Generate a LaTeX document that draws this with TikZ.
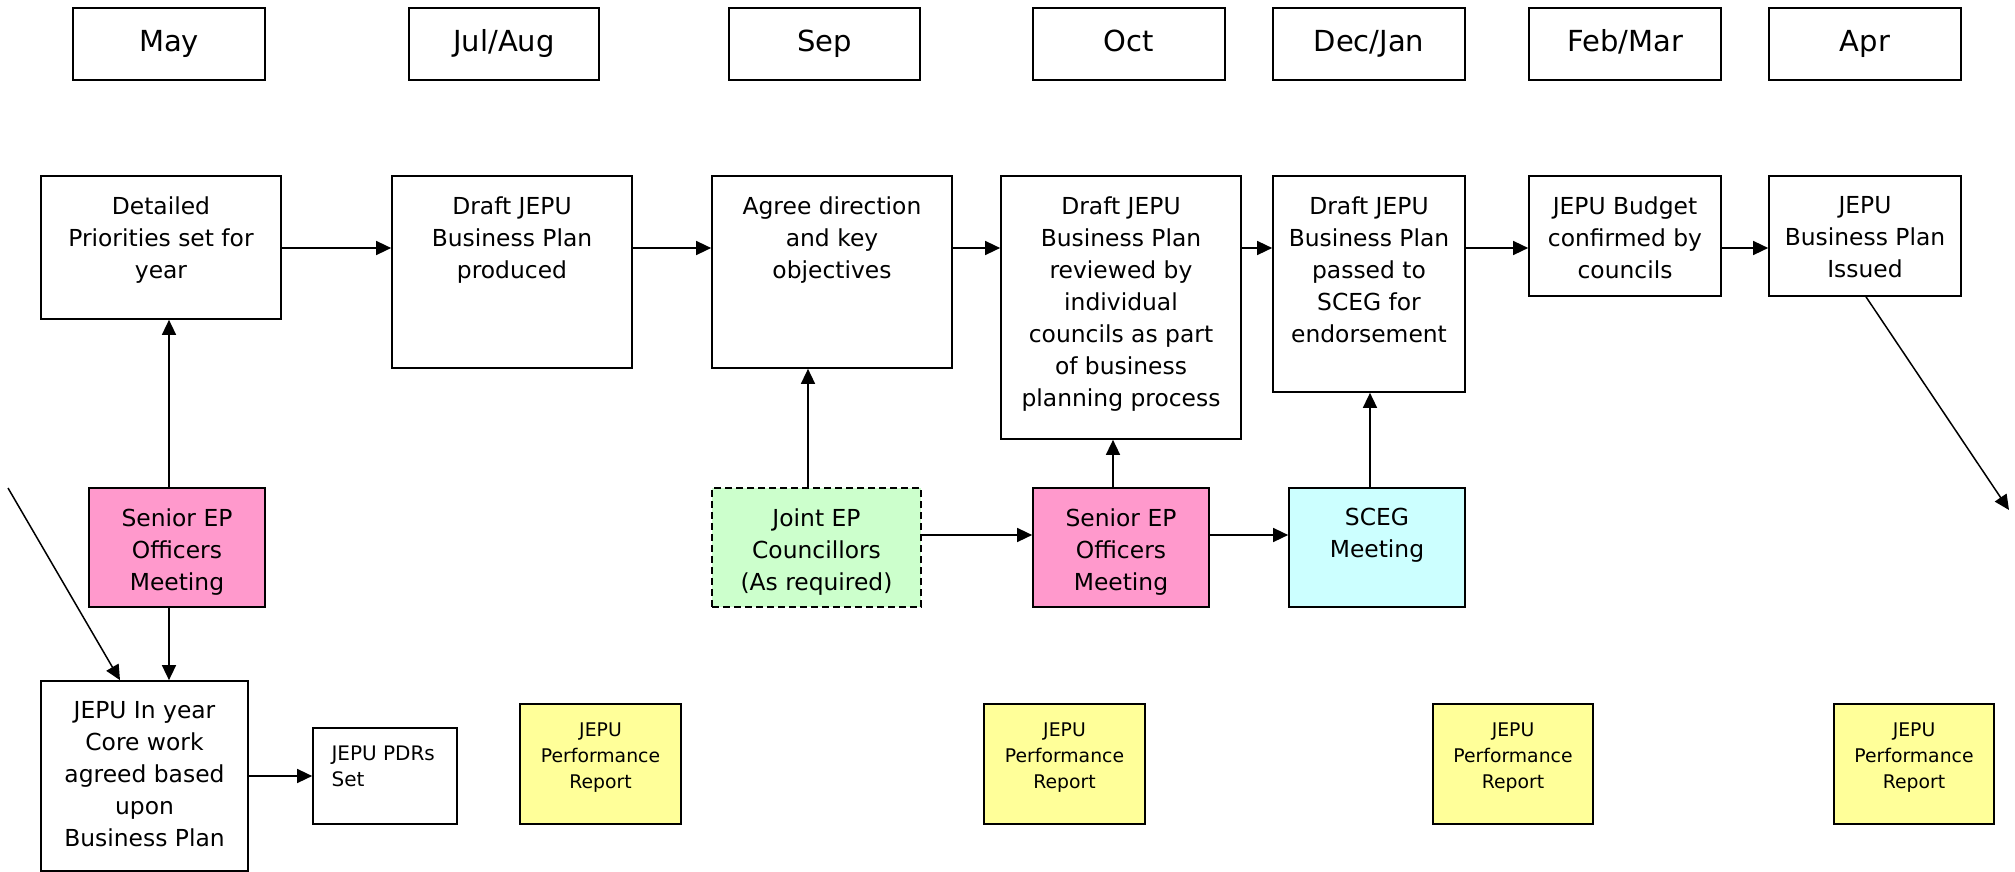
\documentclass[tikz,border=0pt]{standalone}
\usepackage{fontspec}
\setmainfont{DejaVu Sans}
\usetikzlibrary{arrows.meta,fit}

\definecolor{pinkfill}{HTML}{FF99CC}
\definecolor{greenfill}{HTML}{CCFFCC}
\definecolor{cyanfill}{HTML}{CCFFFF}
\definecolor{yellowfill}{HTML}{FFFF99}

\tikzset{
  frame/.style={draw=black, line width=0.85pt, inner sep=0pt},
  monthtxt/.style={inner sep=0pt, anchor=base, yshift=-3.6pt,
              font=\fontsize{14.5}{18}\selectfont},
  lbl/.style={align=center, inner sep=0pt, anchor=north, yshift=-10.5pt,
              font=\fontsize{11.7}{16}\selectfont},
  smalllbl/.style={align=center, inner sep=0pt, anchor=north, yshift=-9.6pt,
              font=\fontsize{9.4}{12.9}\selectfont},
  arr/.style={draw=black, line width=0.75pt, -{Triangle[length=7.5pt,width=7pt]}},
}

% a framed box spanning two corners, with its text hung from the top edge
\newcommand\tbox[6]{%
  \node[frame,#2,fit={#3 #4}] (#1) {};
  \node[#5] (#1-t) at (#1.north) {#6};
}
% a month heading box with its centred name
\newcommand\monthbox[4]{%
  \node[frame,fit={#2 #3}] (#1) {};
  \node[monthtxt] (#1-t) at (#1.center) {#4};
}

\begin{document}
\begin{tikzpicture}[x=0.5pt,y=-0.5pt]
\useasboundingbox (0,0) rectangle (2015,872);

% month headings
\monthbox{may}{(73,8)}{(265,80)}{May}
\monthbox{jul}{(409,8)}{(599,80)}{Jul/Aug}
\monthbox{sep}{(729,8)}{(920,80)}{Sep}
\monthbox{oct}{(1033,8)}{(1225,80)}{Oct}
\monthbox{dec}{(1273,8)}{(1465,80)}{Dec/Jan}
\monthbox{feb}{(1529,8)}{(1721,80)}{Feb/Mar}
\monthbox{apr}{(1769,8)}{(1961,80)}{Apr}

% main process row
\tbox{detail}{}{(41,176)}{(281,319)}{lbl}{Detailed\\Priorities set for\\year}
\tbox{draft}{}{(392,176)}{(632,368)}{lbl}{Draft JEPU\\Business Plan\\produced}
\tbox{agree}{}{(712,176)}{(952,368)}{lbl}{Agree direction\\and key\\objectives}
\tbox{review}{}{(1001,176)}{(1241,439)}{lbl}{Draft JEPU\\Business Plan\\reviewed by\\individual\\councils as part\\of business\\planning process}
\tbox{passed}{}{(1273,176)}{(1465,392)}{lbl}{Draft JEPU\\Business Plan\\passed to\\SCEG for\\endorsement}
\tbox{budget}{}{(1529,176)}{(1721,296)}{lbl}{JEPU Budget\\confirmed by\\councils}
\tbox{issued}{}{(1769,176)}{(1961,296)}{lbl}{JEPU\\Business Plan\\Issued}

% meetings
\tbox{senA}{fill=pinkfill}{(89,488)}{(265,607)}{lbl}{Senior EP\\Officers\\Meeting}
\tbox{joint}{fill=greenfill,dash pattern=on 3.5pt off 2pt}{(712,488)}{(921,607)}{lbl}{Joint EP\\Councillors\\(As required)}
\tbox{senB}{fill=pinkfill}{(1033,488)}{(1209,607)}{lbl}{Senior EP\\Officers\\Meeting}
\tbox{sceg}{fill=cyanfill}{(1289,488)}{(1465,607)}{lbl}{SCEG\\Meeting}

% in-year work and reports
\tbox{core}{}{(41,681)}{(248,871)}{lbl}{JEPU In year\\Core work\\agreed based\\upon\\Business Plan}
\node[frame, fit={(313,728) (457,824)}] (pdr) {};
\node[align=left, inner sep=0pt, anchor=north west, font=\fontsize{10}{13}\selectfont]
  (pdr-t) at ([xshift=9.5pt,yshift=-9.2pt]pdr.north west) {JEPU PDRs\\Set};
\tbox{repA}{fill=yellowfill}{(520,704)}{(681,824)}{smalllbl}{JEPU\\Performance\\Report}
\tbox{repB}{fill=yellowfill}{(984,704)}{(1145,824)}{smalllbl}{JEPU\\Performance\\Report}
\tbox{repC}{fill=yellowfill}{(1433,704)}{(1593,824)}{smalllbl}{JEPU\\Performance\\Report}
\tbox{repD}{fill=yellowfill}{(1834,704)}{(1994,824)}{smalllbl}{JEPU\\Performance\\Report}

% guide coordinates for the connectors
\coordinate (toprow) at (0,248);
\coordinate (midrow) at (0,535);
\coordinate (pdrrow) at (0,776);
\coordinate (colA)   at (169,0);
\coordinate (colIn)  at (120,0);
\coordinate (colJ)   at (808,0);
\coordinate (colO)   at (1113,0);
\coordinate (colS)   at (1370,0);
\coordinate (colI)   at (1866,0);
\coordinate (carryin)  at (8,488);
\coordinate (carryout) at (2009,510);

% flow along the main row
\draw[arr] (detail.east |- toprow) -- (draft.west |- toprow);
\draw[arr] (draft.east |- toprow)  -- (agree.west |- toprow);
\draw[arr] (agree.east |- toprow)  -- (review.west |- toprow);
\draw[arr] (review.east |- toprow) -- (passed.west |- toprow);
\draw[arr] (passed.east |- toprow) -- (budget.west |- toprow);
\draw[arr] (budget.east |- toprow) -- (issued.west |- toprow);

% meetings feeding the plan
\draw[arr] (colA |- senA.north) -- (colA |- detail.south);
\draw[arr] (colA |- senA.south) -- (colA |- core.north);
\draw[arr] (colJ |- joint.north) -- (colJ |- agree.south);
\draw[arr] (colO |- senB.north) -- (colO |- review.south);
\draw[arr] (colS |- sceg.north) -- (colS |- passed.south);
\draw[arr] (joint.east |- midrow) -- (senB.west |- midrow);
\draw[arr] (senB.east |- midrow) -- (sceg.west |- midrow);

% yearly cycle and core work
\draw[arr] (carryin) -- (colIn |- core.north);
\draw[arr] (core.east |- pdrrow) -- (pdr.west |- pdrrow);
\draw[arr] (colI |- issued.south) -- (carryout);
\end{tikzpicture}
\end{document}
